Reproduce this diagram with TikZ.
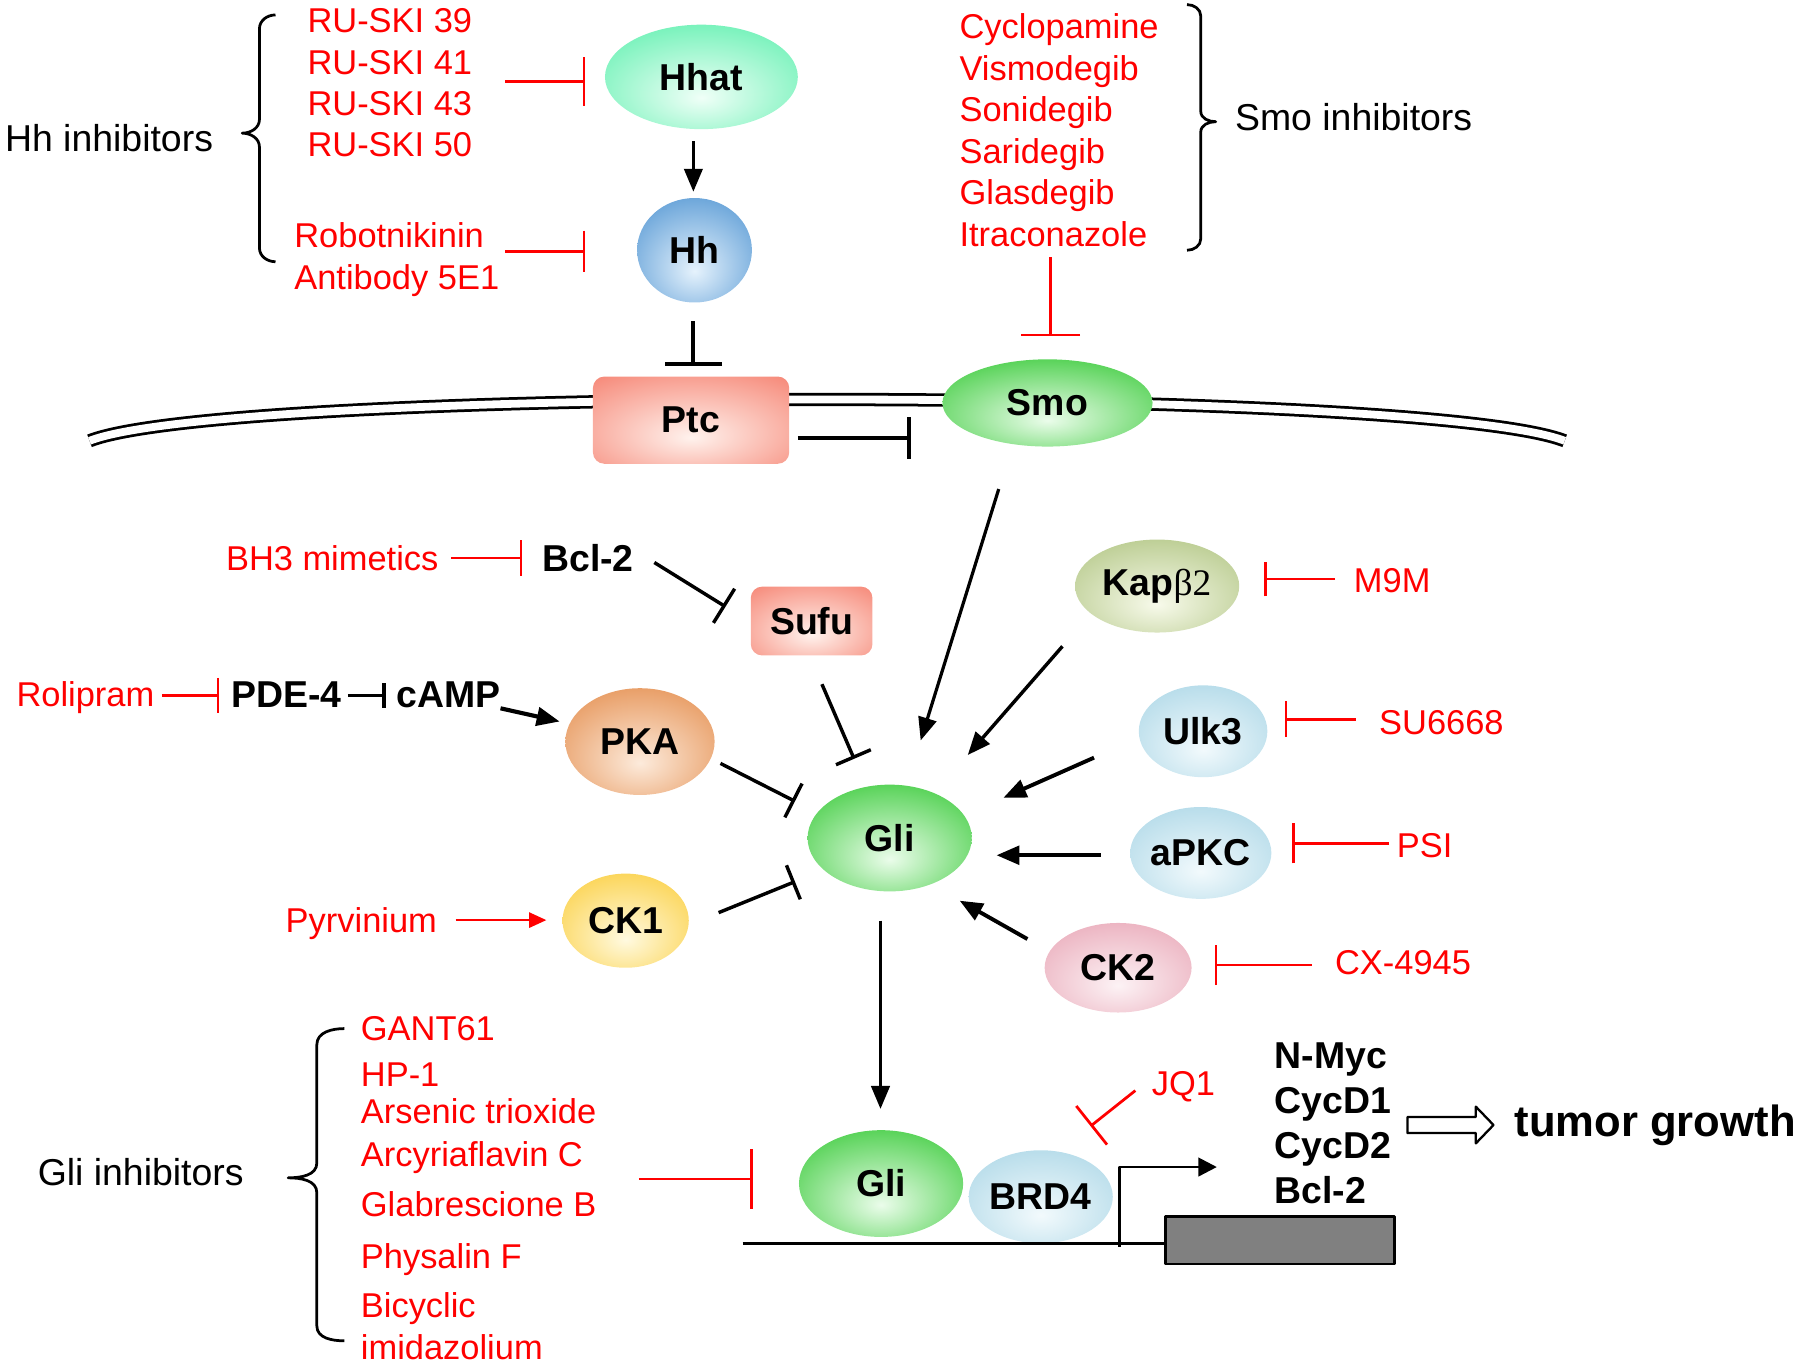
\documentclass[tikz,border=0pt]{standalone}
\usepackage{fontspec}
\setmainfont{Liberation Sans}
\newfontfamily\serfam{Liberation Serif}
\usetikzlibrary{arrows.meta,shapes.geometric}
\newcommand\mkshade[3]{\pgfdeclareradialshading{#1}{\pgfpoint{0bp}{-10bp}}{rgb(0bp)=(#2); rgb(44bp)=(#3); rgb(75bp)=(#3)}}
\mkshade{shHhat}{0.94,1,0.97}{0.28,0.93,0.64}
\mkshade{shHh}{0.90,0.95,0.99}{0.23,0.53,0.80}
\mkshade{shPtc}{1,0.95,0.93}{0.96,0.48,0.41}
\mkshade{shGreen}{0.92,0.99,0.92}{0.11,0.76,0.11}
\mkshade{shPKA}{0.99,0.92,0.86}{0.88,0.50,0.22}
\mkshade{shCKone}{1,0.98,0.88}{0.98,0.78,0.14}
\mkshade{shKap}{0.97,0.98,0.92}{0.65,0.74,0.45}
\mkshade{shBlue}{0.95,0.98,0.99}{0.63,0.82,0.89}
\mkshade{shCKtwo}{0.99,0.95,0.96}{0.90,0.61,0.68}
\definecolor{genegray}{RGB}{128,128,128}
\begin{document}
\begin{tikzpicture}[x=0.5pt,y=-0.5pt,line join=round,
 rtxt/.style={anchor=west, inner sep=0pt, text=red, font=\fontsize{15}{18}\selectfont, text height=10.7pt, text depth=0pt},
 ktxt/.style={anchor=west, inner sep=0pt, font=\fontsize{16.3}{19}\selectfont, text height=11.7pt, text depth=0pt},
 kbold/.style={ktxt, font=\bfseries\fontsize{16.3}{19}\selectfont},
 prot/.style={ellipse, inner sep=0pt, font=\bfseries\fontsize{16.3}{19}\selectfont},
 pbox/.style={rectangle, rounded corners=5pt, inner sep=0pt, font=\bfseries\fontsize{16.3}{19}\selectfont},
 rinh/.style={draw=red, line width=1.2pt, -{Bar[width=#1]}},
 kinh/.style={draw=black, line width=1.5pt, -{Bar[width=#1]}},
 kact/.style={draw=black, line width=1.4pt, -{Triangle[length=10pt,width=8pt]}},
 ract/.style={draw=red, line width=1.2pt, -{Triangle[length=7.5pt,width=6.5pt]}},
 bracestyle/.style={draw=black, line width=1.2pt}]
\useasboundingbox (0,0) rectangle (1568,1189);

% membrane
\draw[line width=1.2pt, double, double distance=3.4pt] (78,384) .. controls (200,336) and (1240,336) .. (1363,384);

% nodes
\node[prot, shading=shHhat, minimum width=84pt, minimum height=45.5pt] (hhat) at (611,67) {Hhat};
\node[prot, shading=shHh, minimum width=50pt, minimum height=45.5pt] (hh) at (605,218) {Hh};
\node[pbox, shading=shPtc, minimum width=85.5pt, minimum height=38pt] (ptc) at (602,366) {Ptc};
\node[prot, shading=shGreen, minimum width=91.5pt, minimum height=38pt] (smo) at (912.5,351) {Smo};
\node[pbox, shading=shPtc, minimum width=53pt, minimum height=30pt] (sufu) at (707,541) {Sufu};
\node[prot, shading=shPKA, minimum width=65pt, minimum height=46.5pt] (pka) at (557.5,646) {PKA};
\node[prot, shading=shGreen, minimum width=71.5pt, minimum height=46.5pt] (gli) at (775,730) {Gli};
\node[prot, shading=shCKone, minimum width=55pt, minimum height=41pt] (ckone) at (545,802) {CK1};
\node[prot, shading=shKap, minimum width=71.5pt, minimum height=40.5pt] (kap) at (1008,510.5) {Kap{\serfam\mdseries β2}};
\node[prot, shading=shBlue, minimum width=56pt, minimum height=40pt] (ulk) at (1048,637) {Ulk3};
\node[prot, shading=shBlue, minimum width=56pt, minimum height=40pt] (apkc) at (1046,743) {aPKC};
\node[prot, shading=shCKtwo, minimum width=64pt, minimum height=39pt] (cktwo) at (974,843) {CK2};
\node[prot, shading=shGreen, minimum width=71.5pt, minimum height=46.5pt] (glib) at (767.5,1031) {Gli};
\node[prot, shading=shBlue, minimum width=56pt, minimum height=40.5pt] (brd) at (906.6,1042.5) {BRD4};
\node[draw, fill=genegray, line width=1.2pt, inner sep=0pt, minimum width=100pt, minimum height=20.5pt] (gene) at (1115,1080.5) {};

% texts
\node[ktxt] (hhinh) at (4,120.5) {Hh inhibitors};
\foreach \t/\y [count=\i] in {RU-SKI 39/18, RU-SKI 41/54, RU-SKI 43/90, RU-SKI 50/126}
  \node[rtxt] (ru\i) at (267.5,\y) {\t};
\node[rtxt] (robo) at (256,204.7) {Robotnikinin};
\node[rtxt] (ab) at (256,241.7) {Antibody 5E1};
\foreach \t/\y [count=\i] in {Cyclopamine/23, Vismodegib/59, Sonidegib/95.5, Saridegib/131.5, Glasdegib/167.5, Itraconazole/204}
  \node[rtxt] (smoi\i) at (835.5,\y) {\t};
\node[ktxt] (smoinh) at (1075.5,101.6) {Smo inhibitors};
\node[rtxt] (bh) at (196.5,486) {BH3 mimetics};
\node[kbold] (bcl) at (472,486) {Bcl-2};
\node[rtxt] (roli) at (14,605) {Rolipram};
\node[kbold] (pde) at (201,605) {PDE-4};
\node[kbold] (camp) at (345,605) {cAMP};
\node[rtxt] (pyr) at (248.5,801.5) {Pyrvinium};
\node[rtxt] (mnm) at (1179,505.8) {M9M};
\node[rtxt] (su) at (1201,629) {SU6668};
\node[rtxt] (psi) at (1216.5,736) {PSI};
\node[rtxt] (cx) at (1162.6,838) {CX-4945};
\node[rtxt] (jq) at (1003,943.5) {JQ1};
\node[ktxt] (gliinh) at (32.5,1021) {Gli inhibitors};
\foreach \t/\y [count=\i] in {GANT61/895.7, HP-1/936, Arsenic trioxide/968, Arcyriaflavin C/1005, Glabrescione B/1049.4, Physalin F/1094.7, Bicyclic/1136.8, imidazolium/1173.8}
  \node[rtxt] (glii\i) at (314,\y) {\t};
\foreach \t/\y [count=\i] in {N-Myc/919, CycD1/958, CycD2/997.4, Bcl-2/1036.6}
  \node[kbold] (tg\i) at (1110,\y) {\t};
\node[anchor=west, inner sep=0pt, font=\bfseries\fontsize{19}{22}\selectfont, text height=13.6pt, text depth=0pt] (tumor) at (1319,976) {tumor growth};

% braces
\draw[bracestyle] (240,13) to[out=180,in=90] (226,25) -- (226,104) to[out=-90,in=0] (211,116) to[out=0,in=90] (226,128) -- (226,216) to[out=-90,in=180] (240,228);
\draw[bracestyle] (1034,4) to[out=0,in=90] (1046,14) -- (1046,97) to[out=-90,in=180] (1059,106) to[out=180,in=90] (1046,115) -- (1046,208) to[out=-90,in=0] (1034,218);
\draw[bracestyle] (300,896) to[out=180,in=90] (276,910) -- (276,1013) to[out=-90,in=0] (251,1026) to[out=0,in=90] (276,1039) -- (276,1155) to[out=-90,in=180] (300,1168);

% coordinates
\coordinate (a1) at (440,71);   \coordinate (b1) at (510,71);
\coordinate (a2) at (440,219);  \coordinate (b2) at (510,219);
\coordinate (a3) at (915,224);  \coordinate (b3) at (915,293);
\coordinate (a4) at (393,486);  \coordinate (b4) at (455,486);
\coordinate (a5) at (141,606);  \coordinate (b5) at (191,606);
\coordinate (a6) at (397,801.5);\coordinate (b6) at (476,801.5);
\coordinate (a7) at (1163,504.4);\coordinate (b7) at (1101.5,504.4);
\coordinate (a8) at (1181,626.5);\coordinate (b8) at (1119,626.5);
\coordinate (a9) at (1210,734.5);\coordinate (b9) at (1125.5,734.5);
\coordinate (a10) at (1142.6,840.6);\coordinate (b10) at (1058,840.6);
\coordinate (a11) at (989,950); \coordinate (b11) at (950,981);
\coordinate (a12) at (556.5,1027);\coordinate (b12) at (656,1027);
\coordinate (c1) at (604,123);  \coordinate (d1) at (604,167);
\coordinate (c2) at (604,280);  \coordinate (d2) at (604,319);
\coordinate (c3) at (695,381.6);\coordinate (d3) at (794,381.6);
\coordinate (c4) at (870,426);  \coordinate (d4) at (802,645);
\coordinate (c5) at (570,490);  \coordinate (d5) at (632,528.5);
\coordinate (c6) at (716,596);  \coordinate (d6) at (744,661);
\coordinate (c7) at (303,606);  \coordinate (d7) at (336,606);
\coordinate (c8) at (436,617);  \coordinate (d8) at (487.5,628.5);
\coordinate (c9) at (627.6,665);\coordinate (d9) at (692.5,698);
\coordinate (c10) at (626,795); \coordinate (d10) at (692.5,768);
\coordinate (c11) at (925.5,563);\coordinate (d11) at (843,657.7);
\coordinate (c12) at (953,660); \coordinate (d12) at (874,695);
\coordinate (c13) at (959,745); \coordinate (d13) at (868,745);
\coordinate (c14) at (895,818); \coordinate (d14) at (836,784.6);
\coordinate (c15) at (767,802); \coordinate (d15) at (767,966);
\coordinate (dna) at (647,1083);\coordinate (dnb) at (1015,1083);
\coordinate (pr1) at (975,1086);\coordinate (pr2) at (975,1016.6);\coordinate (pr3) at (1060,1016.6);

% red connectors
\draw[rinh=21pt] (a1) -- (b1);
\draw[rinh=18pt] (a2) -- (b2);
\draw[rinh=26pt] (a3) -- (b3);
\draw[rinh=15.5pt] (a4) -- (b4);
\draw[rinh=15.5pt] (a5) -- (b5);
\draw[ract] (a6) -- (b6);
\draw[rinh=15pt] (a7) -- (b7);
\draw[rinh=15.5pt] (a8) -- (b8);
\draw[rinh=17.5pt] (a9) -- (b9);
\draw[rinh=17.5pt] (a10) -- (b10);
\draw[rinh=21.5pt] (a11) -- (b11);
\draw[rinh=26pt] (a12) -- (b12);

% black connectors
\draw[kact] (c1) -- (d1);
\draw[kinh=25pt, line width=1.8pt] (c2) -- (d2);
\draw[kinh=18pt, line width=1.8pt] (c3) -- (d3);
\draw[kact, line width=1.4pt] (c4) -- (d4);
\draw[kinh=17.5pt] (c5) -- (d5);
\draw[kinh=16.5pt] (c6) -- (d6);
\draw[kinh=11pt] (c7) -- (d7);
\draw[kact, line width=1.8pt] (c8) -- (d8);
\draw[kinh=16.5pt] (c9) -- (d9);
\draw[kinh=16pt] (c10) -- (d10);
\draw[kact, line width=1.5pt] (c11) -- (d11);
\draw[kact, line width=1.7pt] (c12) -- (d12);
\draw[kact, line width=1.9pt] (c13) -- (d13);
\draw[kact, line width=1.7pt] (c14) -- (d14);
\draw[kact] (c15) -- (d15);
\draw[line width=1.2pt] (dna) -- (dnb);
\draw[line width=1.2pt, -{Triangle[length=8pt,width=8pt]}] (pr1) -- (pr2) -- (pr3);

% open arrow
\draw[line width=1pt] (1226,973) -- (1285.6,973) -- (1285.6,964) -- (1301,980) -- (1285.6,996) -- (1285.6,987) -- (1226,987) -- cycle;
\end{tikzpicture}
\end{document}
